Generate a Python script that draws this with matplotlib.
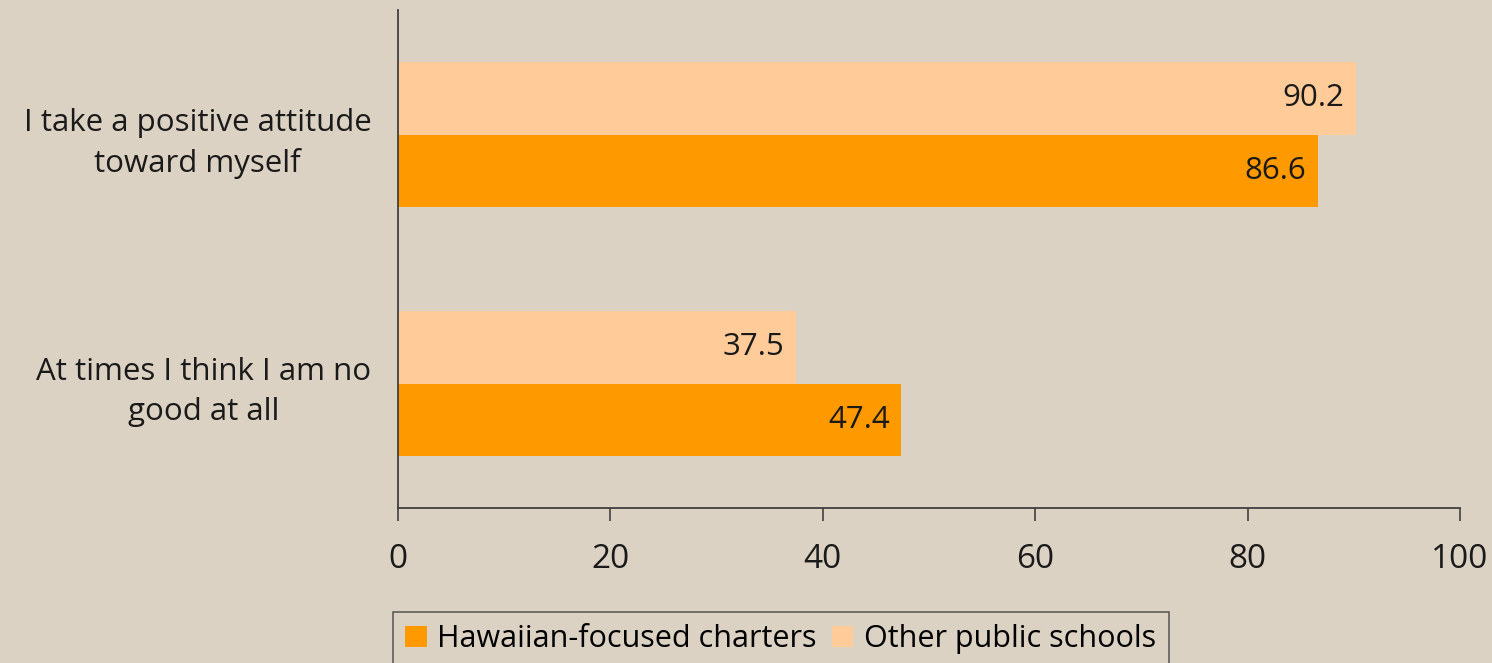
import matplotlib.pyplot as plt
from matplotlib.patches import Patch

plt.rcParams['font.family'] = ['Open Sans', 'DejaVu Sans']

# data
categories = ["I take a positive attitude\ntoward myself",
              "At times I think I am no\ngood at all"]
charters = [86.6, 47.4]
other_public = [90.2, 37.5]
series_names = ["Hawaiian-focused charters", "Other public schools"]
xticks = [0, 20, 40, 60, 80, 100]

bg = '#dcd2c3'
c_dark = '#ff9900'
c_light = '#ffcc99'
ink = '#1a1a1a'

fig = plt.figure(figsize=(14.92, 6.63), dpi=100, facecolor=bg)
ax = fig.add_axes([398 / 1492, 1 - 508 / 663, (1460 - 398) / 1492, 498 / 663])
ax.set_facecolor('none')

ypos = [1, 0]
h = 0.29
for y, v_dark, v_light in zip(ypos, charters, other_public):
    ax.barh(y + h / 2, v_light, height=h, color=c_light, edgecolor='none')
    ax.barh(y - h / 2, v_dark, height=h, color=c_dark, edgecolor='none')
    ax.text(v_light - 1.1, y + h / 2, f"{v_light:.1f}", ha='right', va='center',
            fontsize=22.5, color=ink)
    ax.text(v_dark - 1.1, y - h / 2, f"{v_dark:.1f}", ha='right', va='center',
            fontsize=22.5, color=ink)

ax.set_xlim(0, 100)
ax.set_ylim(-0.5, 1.5)
ax.set_xticks(xticks)
ax.set_xticklabels([str(t) for t in xticks], fontsize=24, color=ink)
ax.set_yticks(ypos)
ax.set_yticklabels(categories, fontsize=22.5, color=ink, multialignment='center',
                   linespacing=1.45)
ax.tick_params(axis='x', direction='out', length=9, width=1.2, color='#404040', pad=16)
ax.tick_params(axis='y', length=0, pad=19)

for s in ['top', 'right']:
    ax.spines[s].set_visible(False)
for s in ['left', 'bottom']:
    ax.spines[s].set_color('#404040')
    ax.spines[s].set_linewidth(1.3)

handles = [Patch(facecolor=c_dark, edgecolor='none'),
           Patch(facecolor=c_light, edgecolor='none')]
leg = fig.legend(handles, series_names, loc='upper left',
                 bbox_to_anchor=(393 / 1492, 1 - 612 / 663), ncol=2,
                 fontsize=22, frameon=True, fancybox=False,
                 handlelength=0.7, handleheight=0.7, handletextpad=0.35,
                 columnspacing=0.5, borderpad=0.4, borderaxespad=0)
leg.get_frame().set_facecolor('none')
leg.get_frame().set_edgecolor('#404040')
leg.get_frame().set_linewidth(1.2)

fig.savefig('out.png', dpi=100, facecolor=bg)
